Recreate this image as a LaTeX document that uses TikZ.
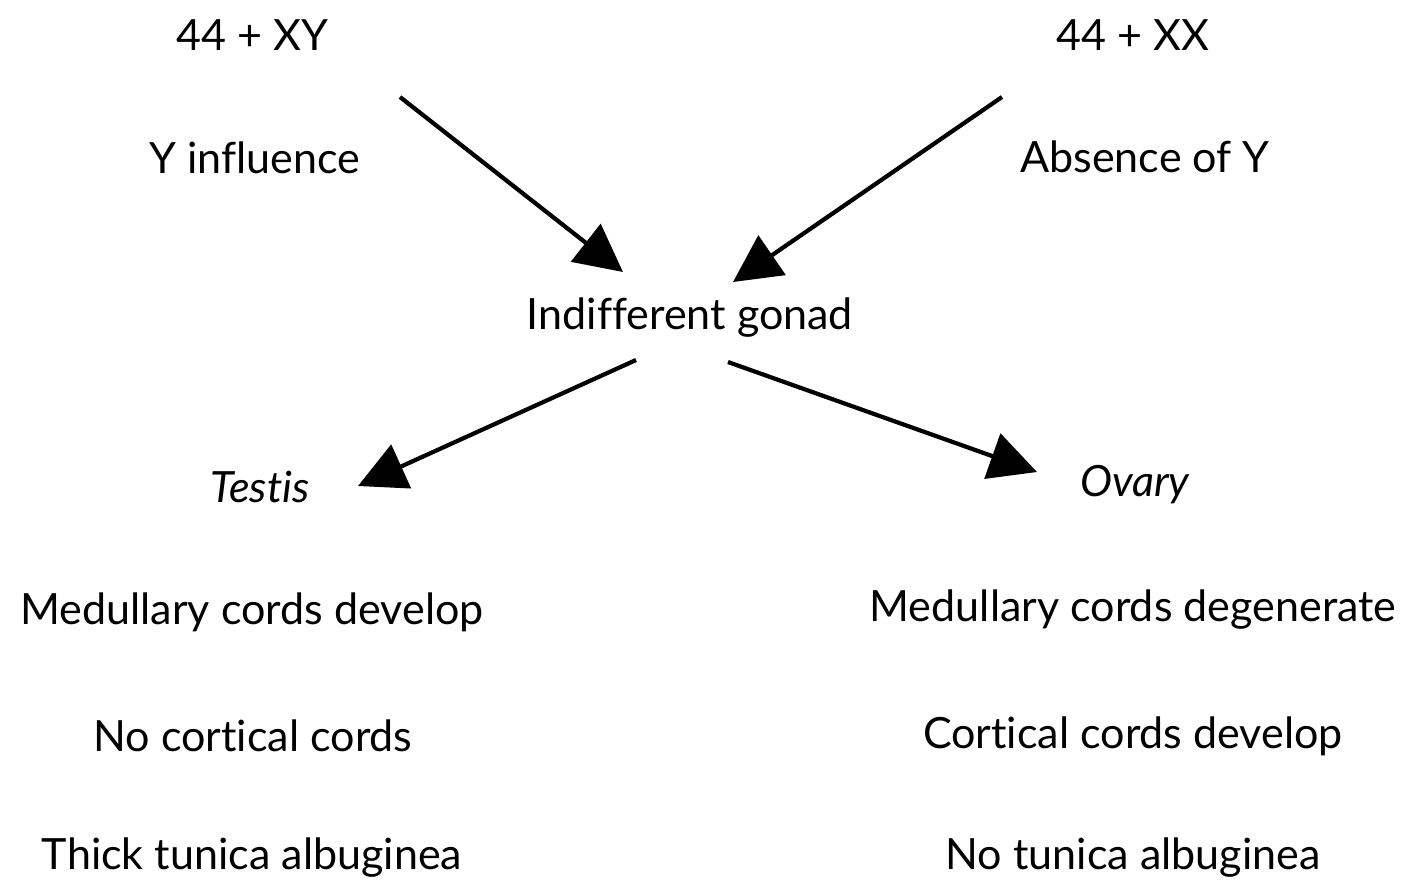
\documentclass[tikz,border=0pt]{standalone}
\usepackage{fontspec}
\setmainfont[Ligatures=NoCommon]{Lato}
\usetikzlibrary{arrows.meta}
\begin{document}
\begin{tikzpicture}[x=0.02cm,y=-0.02cm,
  lbl/.style={font=\fontsize{24.5}{30}\selectfont, inner sep=0pt, anchor=center},
  it/.style={lbl, font=\fontsize{24.5}{30}\selectfont\itshape},
  arr/.style={line width=2.4pt, -{Triangle[length=27pt,width=27pt]}}]
\useasboundingbox (0,0) rectangle (1407,887);
\node[lbl] (xy) at (252,35) {44 + XY};
\node[lbl] (yin) at (255,158) {Y influence};
\node[lbl] (xx) at (1133,35) {44 + XX};
\node[lbl] (aby) at (1145,157) {Absence of Y};
\node[lbl] (ig) at (690,318) {Indifferent gonad};
\node[it] (te) at (260,487) {Testis};
\node[it] (ov) at (1135,485) {Ovary};
\node[lbl] (m1) at (252,612) {Medullary cords develop};
\node[lbl] (m2) at (253,736) {No cortical cords};
\node[lbl] (m3) at (252,858) {Thick tunica albuginea};
\node[lbl] (f1) at (1133,610) {Medullary cords degenerate};
\node[lbl] (f2) at (1133,736) {Cortical cords develop};
\node[lbl] (f3) at (1133,858) {No tunica albuginea};
\coordinate (a1s) at (400,97);
\coordinate (a1e) at (623,272);
\coordinate (a2s) at (1002,97);
\coordinate (a2e) at (733,282);
\coordinate (a3s) at (636,360);
\coordinate (a3e) at (358,486);
\coordinate (a4s) at (728,362);
\coordinate (a4e) at (1037,472);
\draw[arr] (a1s) -- (a1e);
\draw[arr] (a2s) -- (a2e);
\draw[arr] (a3s) -- (a3e);
\draw[arr] (a4s) -- (a4e);
\end{tikzpicture}
\end{document}
